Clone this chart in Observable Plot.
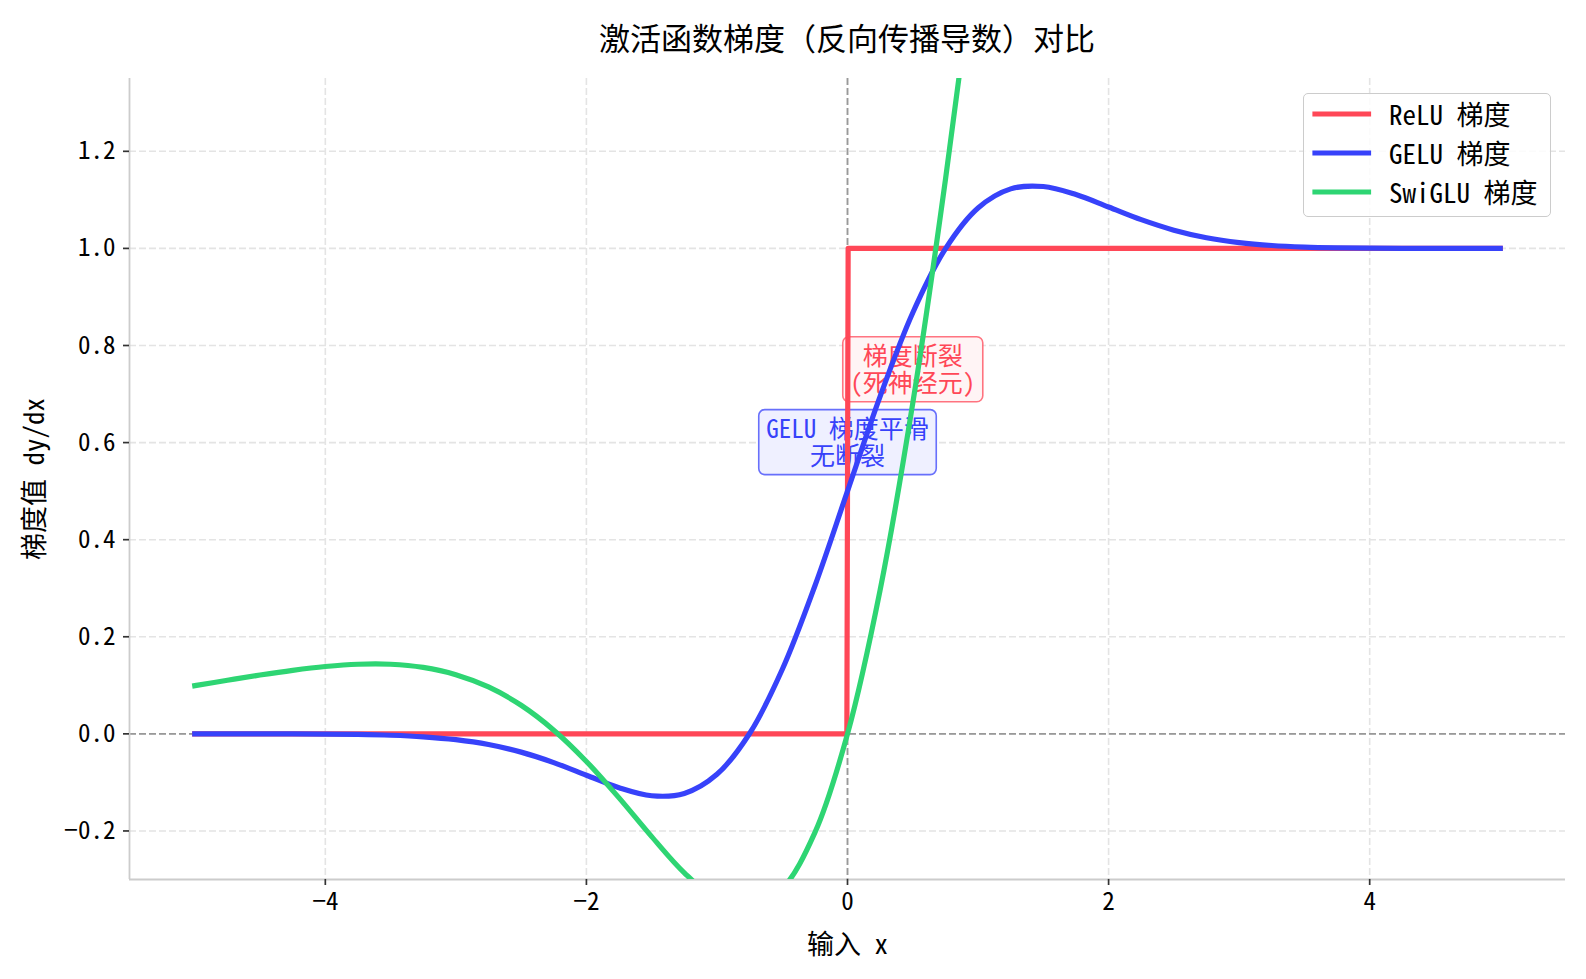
<!DOCTYPE html>
<html>
<head>
<meta charset="utf-8">
<script src="https://cdn.jsdelivr.net/npm/d3@7"></script>
<script src="https://cdn.jsdelivr.net/npm/@observablehq/plot@0.6"></script>
<style>
  html, body { margin: 0; padding: 0; background: #fff; }
  #wrap { position: relative; width: 1586px; height: 979px; overflow: hidden;
          font-family: "Noto Sans Mono CJK SC", "DejaVu Sans Mono", "Noto Sans CJK SC", sans-serif; color: #000; }
  #title { height: 62px; box-sizing: border-box; padding-left: 129px; padding-right: 21px;
           text-align: center; font-size: 31px; line-height: 74px; white-space: nowrap; }
  #chart svg { display: block; }
  #legend { position: absolute; left: 1303px; top: 93px; width: 248px; height: 124px; box-sizing: border-box;
            border: 1.5px solid #cccccc; border-radius: 5px; background: rgba(255,255,255,0.85); }
  #legend .row { position: absolute; left: 0; height: 30px; width: 246px; }
  #legend svg { position: absolute; left: 0; top: 10px; }
  #legend span { position: absolute; left: 85px; top: 0; font-size: 27px; line-height: 30px; white-space: nowrap; }
</style>
</head>
<body>
<div id="wrap">
  <div id="title"></div>
  <div id="chart"></div>
  <div id="legend"></div>
</div>
<script>
// ---- text ----
const titleText = "激活函数梯度（反向传播导数）对比";
const xLabel = "输入 x";
const yLabel = "梯度值 dy/dx";

// ---- ticks ----
const xTicks = [-4, -2, 0, 2, 4];
const yTicks = [-0.2, 0.0, 0.2, 0.4, 0.6, 0.8, 1.0, 1.2];

// ---- series ----
const seriesNames = ["ReLU 梯度", "GELU 梯度", "SwiGLU 梯度"];
const seriesColors = ["#ff4757", "#3742fa", "#2ed573"];

const reluX = [-5, -0.005, 0.005, 5];
const reluY = [0, 0, 1, 1];

const geluX = [-5, -4.75, -4.5, -4.25, -4, -3.75, -3.5, -3.25, -3, -2.75, -2.5, -2.25, -2, -1.75, -1.5, -1.25, -1,
               -0.75, -0.5, -0.25, 0, 0.25, 0.5, 0.75, 1, 1.25, 1.5, 1.75, 2, 2.25, 2.5, 2.75, 3, 3.25, 3.5, 3.75,
               4, 4.25, 4.5, 4.75, 5];
const geluY = [0.0000, -0.00002, -0.00007, -0.00019, -0.0005, -0.00123, -0.00282, -0.00602, -0.01195, -0.02202,
               -0.03761, -0.0592, -0.08523, -0.11093, -0.12747, -0.12266, -0.08331, 0.00078, 0.13251, 0.30462,
               0.5, 0.69538, 0.86749, 0.99922, 1.08331, 1.12266, 1.12747, 1.11093, 1.08523, 1.0592, 1.03761,
               1.02202, 1.01195, 1.00602, 1.00282, 1.00123, 1.0005, 1.00019, 1.00007, 1.00002, 1.0];

const swigluX = [-5, -4.75, -4.5, -4.25, -4, -3.75, -3.5, -3.25, -3, -2.75, -2.5, -2.25, -2, -1.75, -1.5, -1.25,
                 -1, -0.75, -0.5, -0.25, 0, 0.25, 0.5, 0.75, 1];
const swigluY = [0.0993, 0.1104, 0.1212, 0.1309, 0.1387, 0.1434, 0.1434, 0.1369, 0.1220, 0.0966, 0.0589, 0.0076,
                 -0.0568, -0.1319, -0.2117, -0.2863, -0.3413, -0.3587, -0.3188, -0.2035, 0, 0.2965, 0.6812,
                 1.1413, 1.6587];

// ---- annotations ----
const annotTexts = ["梯度断裂\n(死神经元)", "GELU 梯度平滑\n无断裂"];
const annotX = [0.5, 0.0];
const annotY = [0.75, 0.6];
const annotColors = ["#ff4757", "#3742fa"];
const annotFills = ["#fff4f5", "#eff0ff"];

// ---- build tables ----
const toRows = (xs, ys, name) => xs.map((x, i) => ({x, y: ys[i], name}));
const relu = toRows(reluX, reluY, seriesNames[0]);
const gelu = toRows(geluX, geluY, seriesNames[1]);
const swiglu = toRows(swigluX, swigluY, seriesNames[2]);
const annots = annotTexts.map((t, i) => ({t, x: annotX[i], y: annotY[i], c: annotColors[i], f: annotFills[i]}));

const minusFmt = (d, digits) => (digits == null ? String(d) : d.toFixed(digits)).replace("-", "\u2212");

document.getElementById("title").textContent = titleText;

const W = 1586, H = 917;
const lineW = 5.2;
const annotSize = 25, annotLH = 1.1;
const fontStack = '"Noto Sans Mono CJK SC", "DejaVu Sans Mono", "Noto Sans CJK SC", sans-serif';

const chart = Plot.plot({
  width: W,
  height: H,
  marginTop: 16,
  marginBottom: 100,
  marginLeft: 129,
  marginRight: 21,
  x: {domain: [-5.5, 5.5]},
  y: {domain: [-0.3, 1.35]},
  style: {fontFamily: fontStack, fontSize: "25px", background: "white", color: "#000"},
  marks: [
    // grid
    Plot.ruleY(yTicks, {stroke: "#e4e4e4", strokeWidth: 1.6, strokeDasharray: "7,3"}),
    Plot.ruleX(xTicks, {stroke: "#e4e4e4", strokeWidth: 1.6, strokeDasharray: "7,3"}),
    // zero reference lines
    Plot.ruleY([0], {stroke: "#999999", strokeWidth: 1.8, strokeDasharray: "7,3"}),
    Plot.ruleX([0], {stroke: "#999999", strokeWidth: 1.8, strokeDasharray: "7,3"}),
    // spines
    Plot.ruleX([-5.5], {stroke: "#cccccc", strokeWidth: 1.8}),
    Plot.ruleY([-0.3], {stroke: "#cccccc", strokeWidth: 1.8}),
    // axes
    Plot.axisX(xTicks, {tickFormat: (d) => minusFmt(d), tickSize: 6, tickPadding: 7, fontSize: 25,
                        stroke: "#333", strokeWidth: 1.7, label: null}),
    Plot.axisY(yTicks, {tickFormat: (d) => minusFmt(d, 1), tickSize: 6, tickPadding: 8, fontSize: 25,
                        stroke: "#333", strokeWidth: 1.7, label: null}),
    Plot.text([xLabel], {text: (d) => d, frameAnchor: "bottom", dy: 66, fontSize: 27,
                         lineAnchor: "middle", textAnchor: "middle"}),
    Plot.text([yLabel], {text: (d) => d, frameAnchor: "left", dx: -94, rotate: -90, fontSize: 27,
                         lineAnchor: "middle", textAnchor: "middle"}),
    // annotations (boxes inserted afterwards)
    Plot.text(annots, {x: "x", y: "y", text: "t", fill: "c", fontSize: annotSize, lineHeight: annotLH,
                       lineAnchor: "middle", textAnchor: "middle"}),
    // lines
    Plot.line(relu, {x: "x", y: "y", stroke: seriesColors[0], strokeWidth: lineW, clip: true,
                     strokeLinejoin: "round", strokeLinecap: "square"}),
    Plot.line(gelu, {x: "x", y: "y", stroke: seriesColors[1], strokeWidth: lineW, clip: true, curve: "catmull-rom",
                     strokeLinejoin: "round", strokeLinecap: "square"}),
    Plot.line(swiglu, {x: "x", y: "y", stroke: seriesColors[2], strokeWidth: lineW, clip: true, curve: "catmull-rom",
                       strokeLinejoin: "round", strokeLinecap: "square"})
  ]
});
document.getElementById("chart").appendChild(chart);

// annotation boxes (matplotlib-style round bbox), placed under the annotation texts
const ys = chart.scale("y");
const svgRect = chart.getBoundingClientRect();
const allTexts = Array.from(chart.querySelectorAll("text"));
annots.forEach((a) => {
  const firstLine = a.t.split("\n")[0];
  const el = allTexts.find((t) => t.textContent.startsWith(firstLine));
  if (!el) return;
  const g = el.parentNode;
  const tb = el.getBoundingClientRect();
  const padX = 7.5, padY = 5, lineH = annotSize * annotLH;
  const nLines = a.t.split("\n").length;
  const h = nLines * lineH + 2 * padY;
  const cy = ys.apply(a.y);
  const rect = document.createElementNS("http://www.w3.org/2000/svg", "rect");
  rect.setAttribute("x", tb.left - svgRect.left - padX);
  rect.setAttribute("y", cy - h / 2);
  rect.setAttribute("width", tb.width + 2 * padX);
  rect.setAttribute("height", h);
  rect.setAttribute("rx", 6);
  rect.setAttribute("fill", a.f);
  rect.setAttribute("stroke", a.c);
  rect.setAttribute("stroke-opacity", 0.75);
  rect.setAttribute("stroke-width", 1.6);
  g.parentNode.insertBefore(rect, g);
});

// legend
const legend = document.getElementById("legend");
seriesNames.forEach((name, i) => {
  const row = document.createElement("div");
  row.className = "row";
  row.style.top = (23.3 + i * 38.7 - 1.5 - 15 - 1.5) + "px";
  row.innerHTML = `<svg width="80" height="10"><line x1="11" x2="64.5" y1="5" y2="5" stroke="${seriesColors[i]}"
    stroke-width="${lineW}" stroke-linecap="square"/></svg><span>${name}</span>`;
  legend.appendChild(row);
});
</script>
</body>
</html>
